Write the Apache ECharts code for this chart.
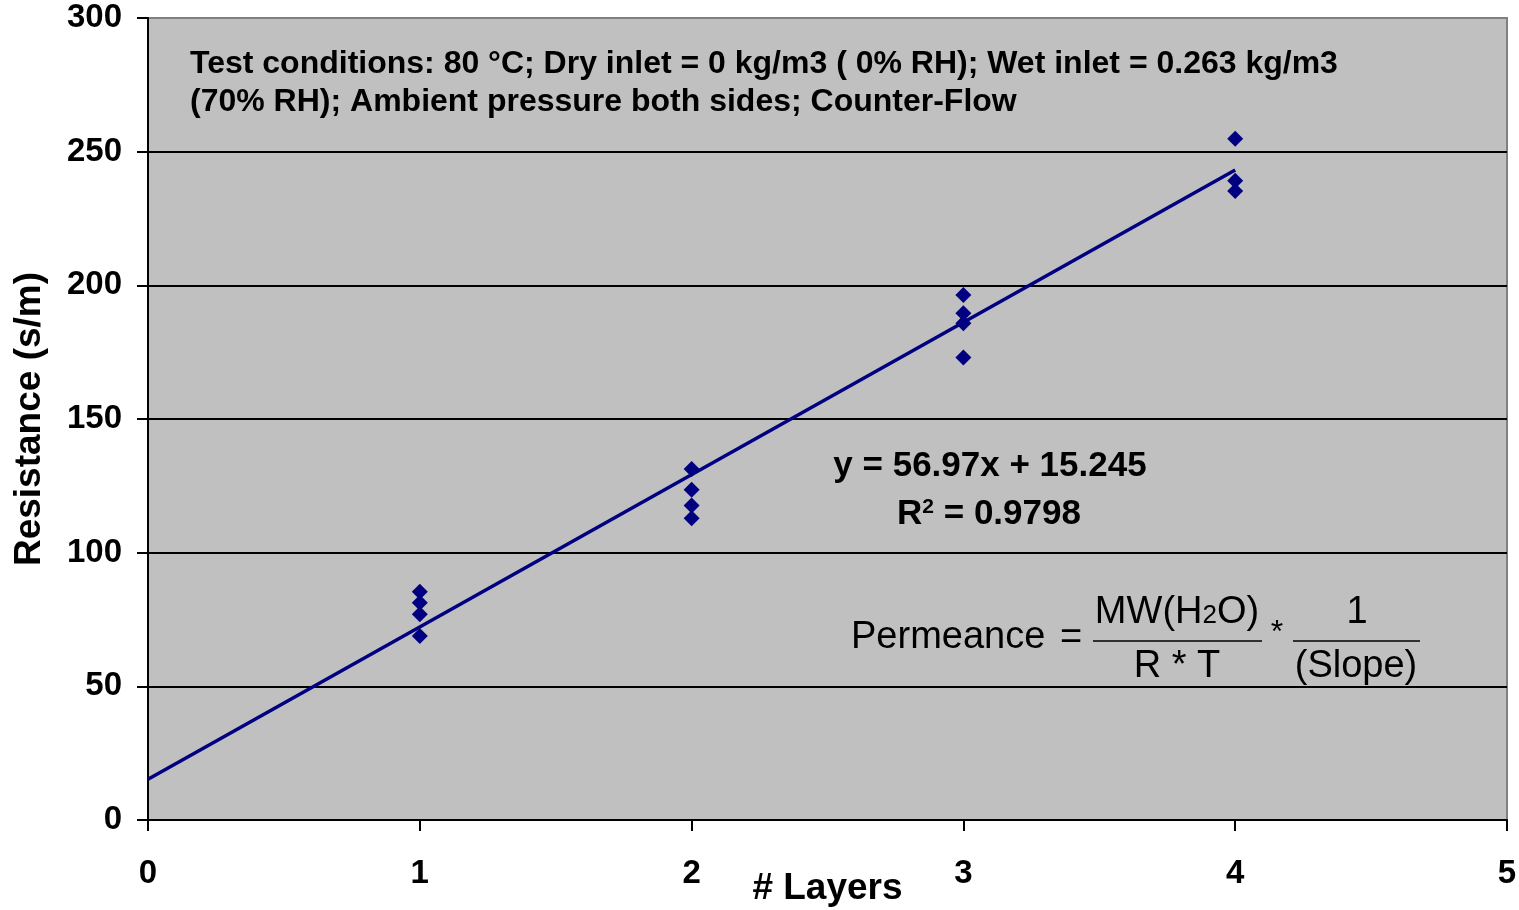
<!DOCTYPE html>
<html>
<head>
<meta charset="utf-8">
<script src="https://cdn.jsdelivr.net/npm/echarts@6/dist/echarts.min.js"></script>
<style>
html,body{margin:0;padding:0;background:#fff;}
#chart{width:1519px;height:910px;}
</style>
</head>
<body>
<div id="chart"></div>
<script>
// Measured resistance (s/m) per number of layers
const layers1 = [1, 1, 1, 1];
const resist1 = [85.4, 81.3, 77.0, 68.8];
const layers2 = [2, 2, 2, 2];
const resist2 = [131.3, 123.5, 117.6, 112.9];
const layers3 = [3, 3, 3, 3];
const resist3 = [196.4, 189.6, 185.8, 173.0];
const layers4 = [4, 4, 4];
const resist4 = [254.8, 239.1, 235.3];
// Linear trend: y = slope * x + intercept
const slope = 56.97;
const intercept = 15.245;
const trendX = [0, 4];
const xTicks = [0, 1, 2, 3, 4, 5];
const yTicks = [0, 50, 100, 150, 200, 250, 300];

const points = [];
[[layers1, resist1], [layers2, resist2], [layers3, resist3], [layers4, resist4]].forEach(([xs, ys]) => {
  xs.forEach((x, i) => points.push([x, ys[i]]));
});
const trend = trendX.map(x => [x, slope * x + intercept]);

const FONT = '"Liberation Sans", Arial, Helvetica, sans-serif';
const chart = echarts.init(document.getElementById('chart'), null, {renderer: 'canvas'});

const gl = 148, gr = 1507, gt = 18, gb = 820;

chart.setOption({
  animation: false,
  backgroundColor: '#ffffff',
  grid: {
    left: gl, right: 1519 - gr, top: gt, bottom: 910 - gb,
    outerBoundsMode: 'none', containLabel: false,
    show: true, backgroundColor: '#C0C0C0', borderColor: '#808080', borderWidth: 2
  },
  xAxis: {
    type: 'value', min: xTicks[0], max: xTicks[xTicks.length - 1], interval: 1,
    name: '# Layers', nameLocation: 'middle', nameGap: 50, nameMoveOverlap: false,
    nameTextStyle: {fontFamily: FONT, fontWeight: 'bold', fontSize: 37, color: '#000'},
    axisLine: {show: true, lineStyle: {color: '#000', width: 2}},
    axisTick: {show: true, inside: false, length: 11, lineStyle: {color: '#000', width: 2}},
    axisLabel: {fontFamily: FONT, fontWeight: 'bold', fontSize: 33, color: '#000', margin: 37},
    splitLine: {show: false}
  },
  yAxis: {
    type: 'value', min: yTicks[0], max: yTicks[yTicks.length - 1], interval: 50,
    name: 'Resistance (s/m)', nameLocation: 'middle', nameGap: 100, nameMoveOverlap: false,
    nameTextStyle: {fontFamily: FONT, fontWeight: 'bold', fontSize: 37, color: '#000'},
    axisLine: {show: true, lineStyle: {color: '#000', width: 2}},
    axisTick: {show: true, inside: false, length: 11, lineStyle: {color: '#000', width: 2}},
    axisLabel: {fontFamily: FONT, fontWeight: 'bold', fontSize: 33, color: '#000', margin: 26},
    splitLine: {show: true, lineStyle: {color: ['#000', '#000', '#000', '#000', '#000', '#000', '#808080'], width: 2}}
  },
  series: [
    {
      type: 'line', data: trend, showSymbol: false, symbol: 'none',
      lineStyle: {color: '#000080', width: 3.5}, z: 3
    },
    {
      type: 'scatter', data: points, symbol: 'diamond', symbolSize: [16, 16],
      itemStyle: {color: '#000080', opacity: 1}, z: 4
    }
  ],
  graphic: [
    {type: 'text', left: 190, top: 45, z: 10, style: {
      text: 'Test conditions: 80 °C; Dry inlet = 0 kg/m3 ( 0% RH); Wet inlet = 0.263 kg/m3\n(70% RH); Ambient pressure both sides; Counter-Flow',
      fontFamily: FONT, fontWeight: 'bold', fontSize: 32, lineHeight: 38, fill: '#000'}},
    {type: 'text', x: 990, y: 466, z: 10, style: {
      text: 'y = 56.97x + 15.245', fontFamily: FONT, fontWeight: 'bold', fontSize: 35,
      fill: '#000', align: 'center', verticalAlign: 'middle'}},
    {type: 'text', x: 989, y: 514, z: 10, style: {
      text: '{b|R}{s|2}{b| = 0.9798}', fontFamily: FONT, fontWeight: 'bold', fontSize: 35,
      fill: '#000', align: 'center', verticalAlign: 'middle',
      rich: {
        b: {fontFamily: FONT, fontWeight: 'bold', fontSize: 35, fill: '#000'},
        s: {fontFamily: FONT, fontWeight: 'bold', fontSize: 21, fill: '#000', verticalAlign: 'top', padding: [0, 0, 14, 0]}
      }}},
    {type: 'text', x: 851, y: 638, z: 10, style: {
      text: 'Permeance', fontFamily: FONT, fontSize: 38, fill: '#000', verticalAlign: 'middle'}},
    {type: 'text', x: 1071, y: 639, z: 10, style: {
      text: '=', fontFamily: FONT, fontSize: 38, fill: '#000', align: 'center', verticalAlign: 'middle'}},
    {type: 'text', x: 1177, y: 613, z: 10, style: {
      text: '{a|MW(H}{s|2}{a|O)}', fill: '#000', align: 'center', verticalAlign: 'middle',
      rich: {
        a: {fontFamily: FONT, fontSize: 38, fill: '#000'},
        s: {fontFamily: FONT, fontSize: 26, fill: '#000', padding: [6, 0, 0, 0]}
      }}},
    {type: 'line', z: 10, shape: {x1: 1093, y1: 641, x2: 1262, y2: 641}, style: {stroke: '#000', lineWidth: 1.5}},
    {type: 'text', x: 1177, y: 667, z: 10, style: {
      text: 'R * T', fontFamily: FONT, fontSize: 38, fill: '#000', align: 'center', verticalAlign: 'middle'}},
    {type: 'text', x: 1277, y: 633, z: 10, style: {
      text: '*', fontFamily: FONT, fontSize: 32, fill: '#000', align: 'center', verticalAlign: 'middle'}},
    {type: 'text', x: 1357, y: 613, z: 10, style: {
      text: '1', fontFamily: FONT, fontSize: 38, fill: '#000', align: 'center', verticalAlign: 'middle'}},
    {type: 'line', z: 10, shape: {x1: 1293, y1: 641, x2: 1420, y2: 641}, style: {stroke: '#000', lineWidth: 1.5}},
    {type: 'text', x: 1356, y: 667, z: 10, style: {
      text: '(Slope)', fontFamily: FONT, fontSize: 38, fill: '#000', align: 'center', verticalAlign: 'middle'}}
  ]
});
</script>
</body>
</html>
